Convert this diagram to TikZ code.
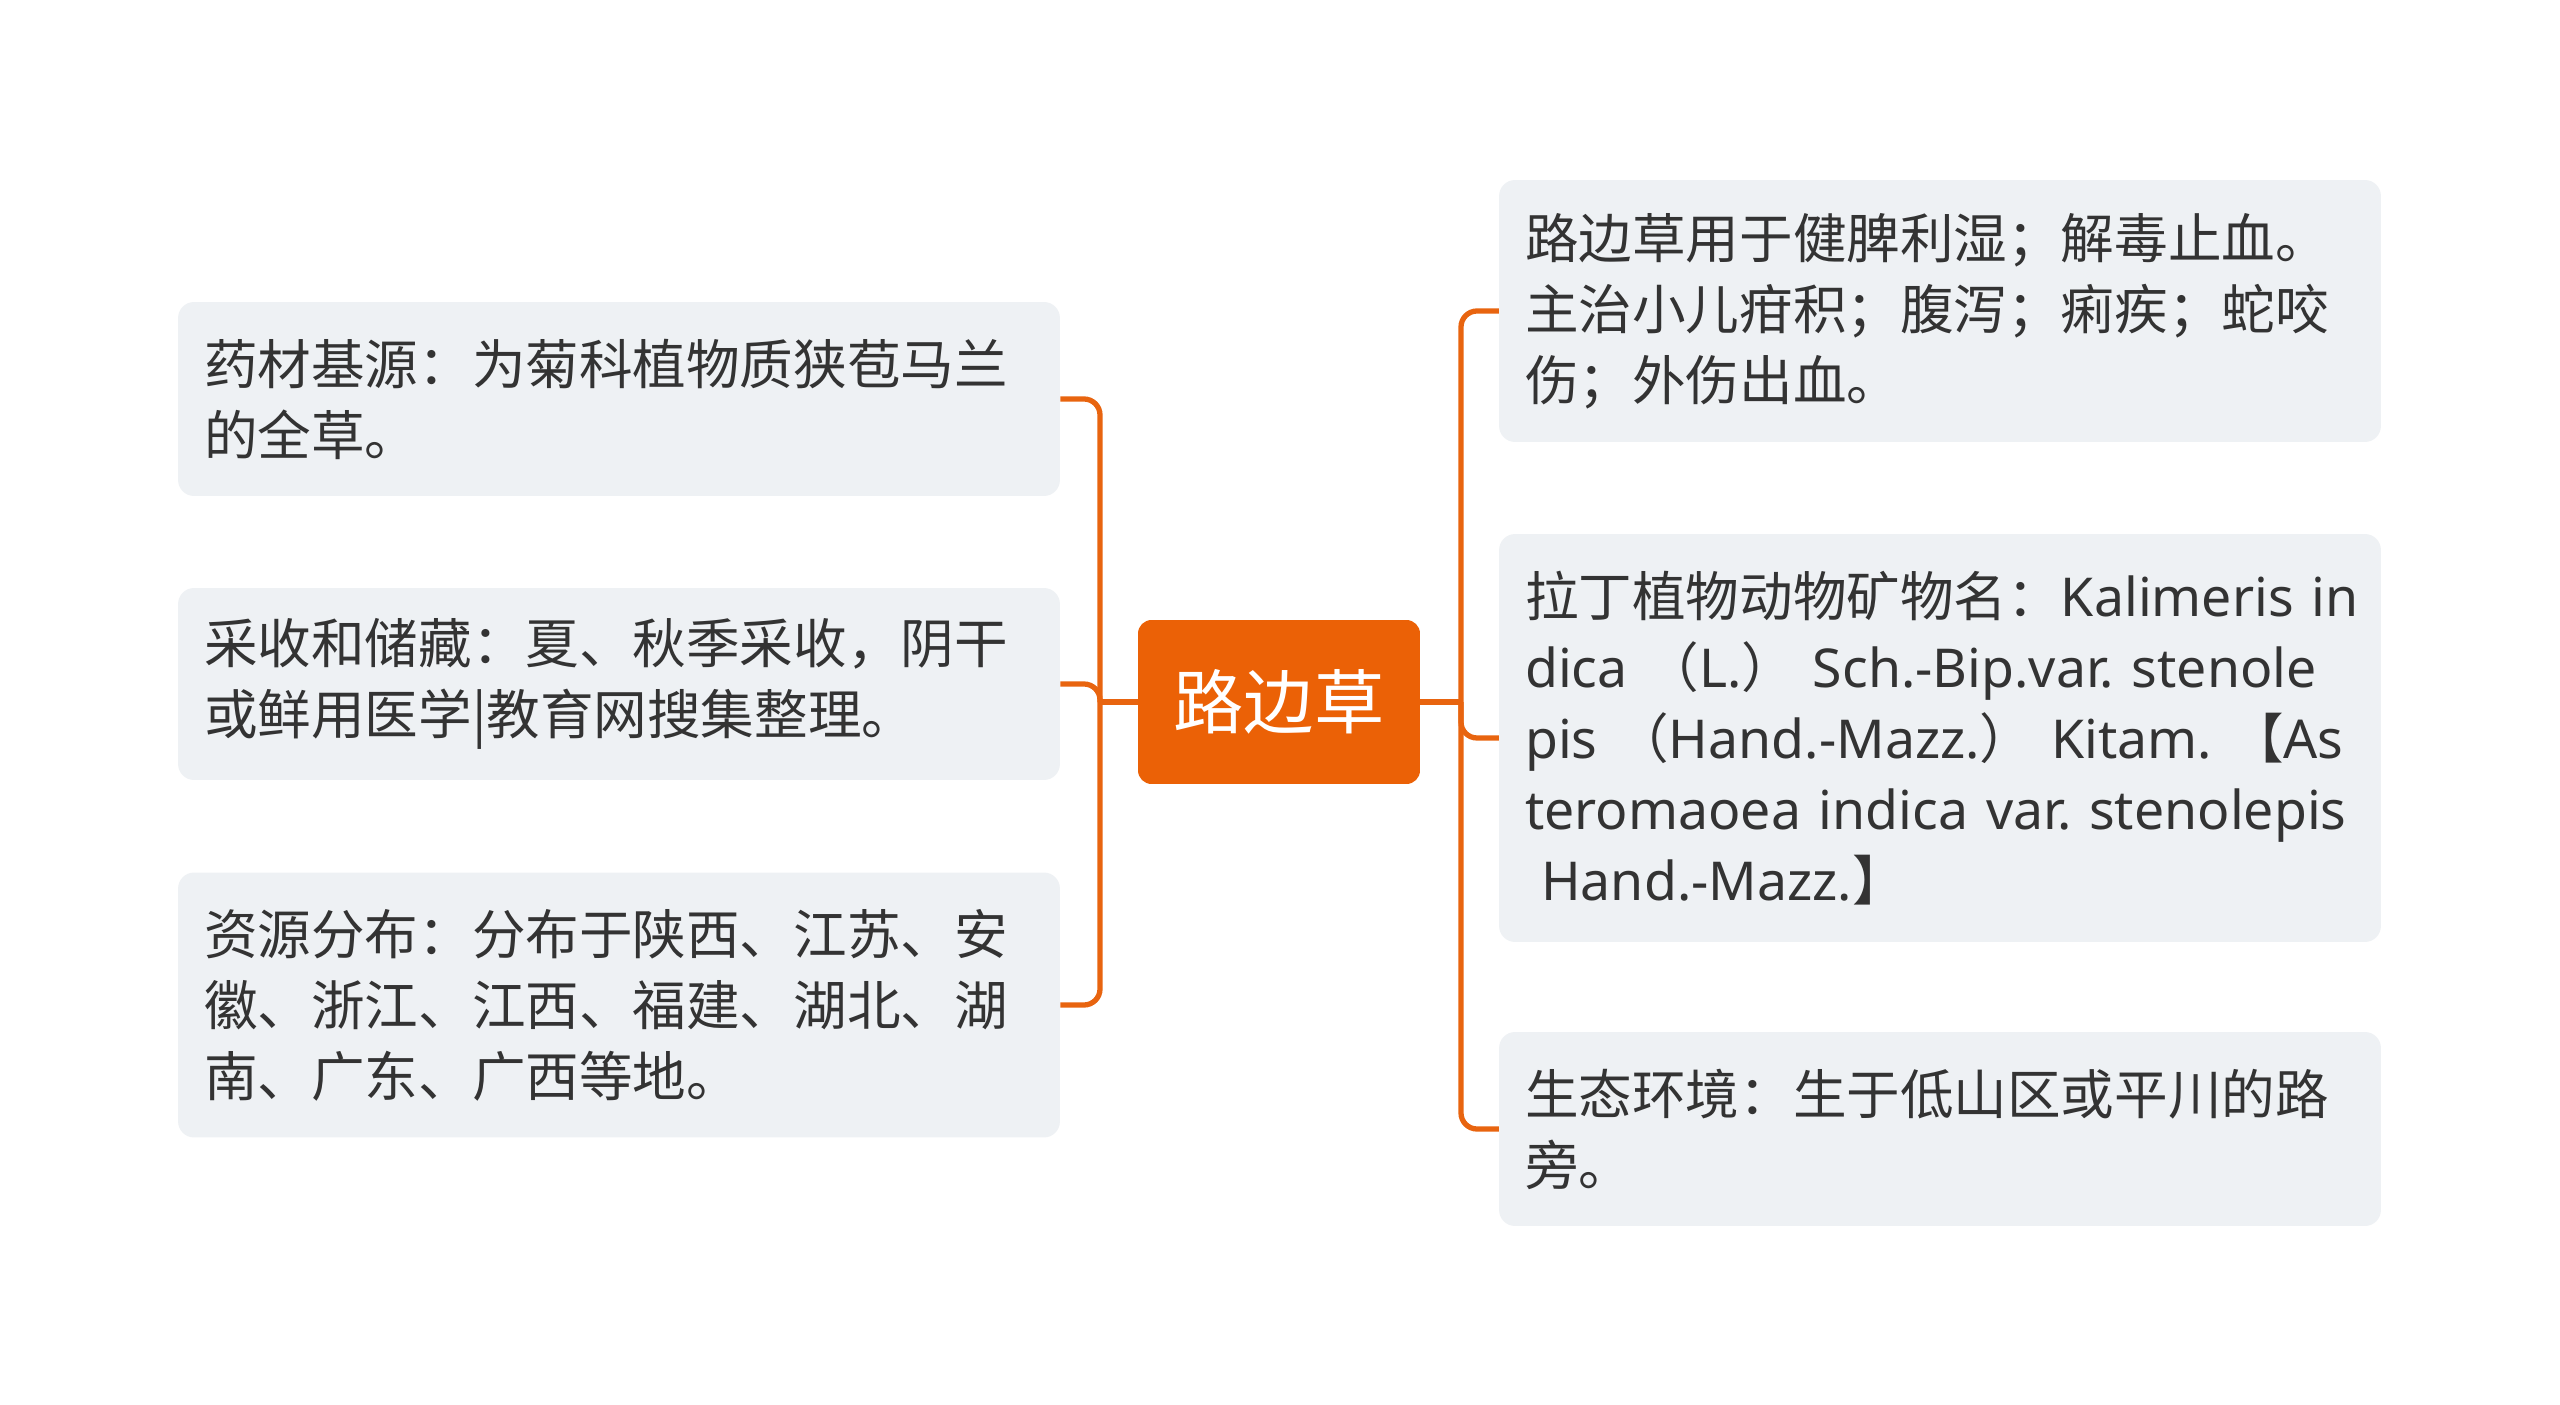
\documentclass[tikz,border=0pt]{standalone}
\usepackage{fontspec}
\setmainfont{Noto Sans CJK SC}
\newfontfamily\lat{Noto Sans}
\usepackage{tikz}
\frenchspacing
\definecolor{rootfill}{HTML}{EB6106}
\definecolor{linkcol}{HTML}{E8640F}
\definecolor{leaffill}{HTML}{EEF1F4}
\definecolor{leaftext}{HTML}{333333}
\tikzset{
	leaf/.style = {
		shape=rectangle,
		rounded corners=0.32cm,
		fill=leaffill,
		text=leaftext,
		align=left,
		text width=16.6cm,
		inner xsep=0.52cm,
		minimum width=17.64cm,
		font=\fontsize{30.5}{40.4}\selectfont
	},
	root/.style = {
		shape=rectangle,
		rounded corners=0.27cm,
		fill=rootfill,
		text=white,
		minimum width=5.64cm,
		minimum height=3.28cm,
		font=\fontsize{40}{48}\selectfont
	},
	link/.style = {
		draw=linkcol,
		line width=3pt,
		rounded corners=0.32cm
	}
}
\begin{document}
\begin{tikzpicture}[x=0.02cm,y=-0.02cm]
	\useasboundingbox[fill=white] (0,0) rectangle (2560,1405);
	\node[root] (root) at (1279,702) {路边草};
	\node[leaf, minimum height=3.88cm] (src) at (619,399) {
		药材基源：为菊科植物质狭苞马兰\\
		的全草。
	};
	\node[leaf, minimum height=3.84cm] (harvest) at (619,684) {
		采收和储藏：夏、秋季采收，阴干\\
		或鲜用医学|教育网搜集整理。
	};
	\node[leaf, minimum height=5.3cm] (dist) at (619,1005) {
		资源分布：分布于陕西、江苏、安\\
		徽、浙江、江西、福建、湖北、湖\\
		南、广东、广西等地。
	};
	\node[leaf, minimum height=5.24cm] (use) at (1940,311) {
		路边草用于健脾利湿；解毒止血。\\
		主治小儿疳积；腹泻；痢疾；蛇咬\\
		伤；外伤出血。
	};
	\node[leaf, minimum height=8.16cm] (latin) at (1940,738) {
		\mbox{拉丁植物动物矿物名：{\lat Kalimeris in}}\\
		\mbox{{\lat dica }（{\lat L.}）{\lat\ Sch.-Bip.var. stenole}}\\
		\mbox{{\lat pis }（{\lat Hand.-Mazz.}）{\lat\ Kitam. }【{\lat As}}\\
		\mbox{{\lat teromaoea indica var. stenolepis}}\\
		\hspace*{0.3em}{\lat Hand.-Mazz.}】
	};
	\node[leaf, minimum height=3.88cm] (habitat) at (1940,1129) {
		生态环境：生于低山区或平川的路\\
		旁。
	};
	\coordinate (lbus) at (1100,702);
	\coordinate (rbus) at (1461,702);
	\draw[link] (root.west) -- (lbus);
	\draw[link] (root.east) -- (rbus);
	\foreach \n in {src,harvest,dist}
		\draw[link] (lbus) |- (\n.east);
	\foreach \n in {use,latin,habitat}
		\draw[link] (rbus) |- (\n.west);
\end{tikzpicture}
\end{document}
